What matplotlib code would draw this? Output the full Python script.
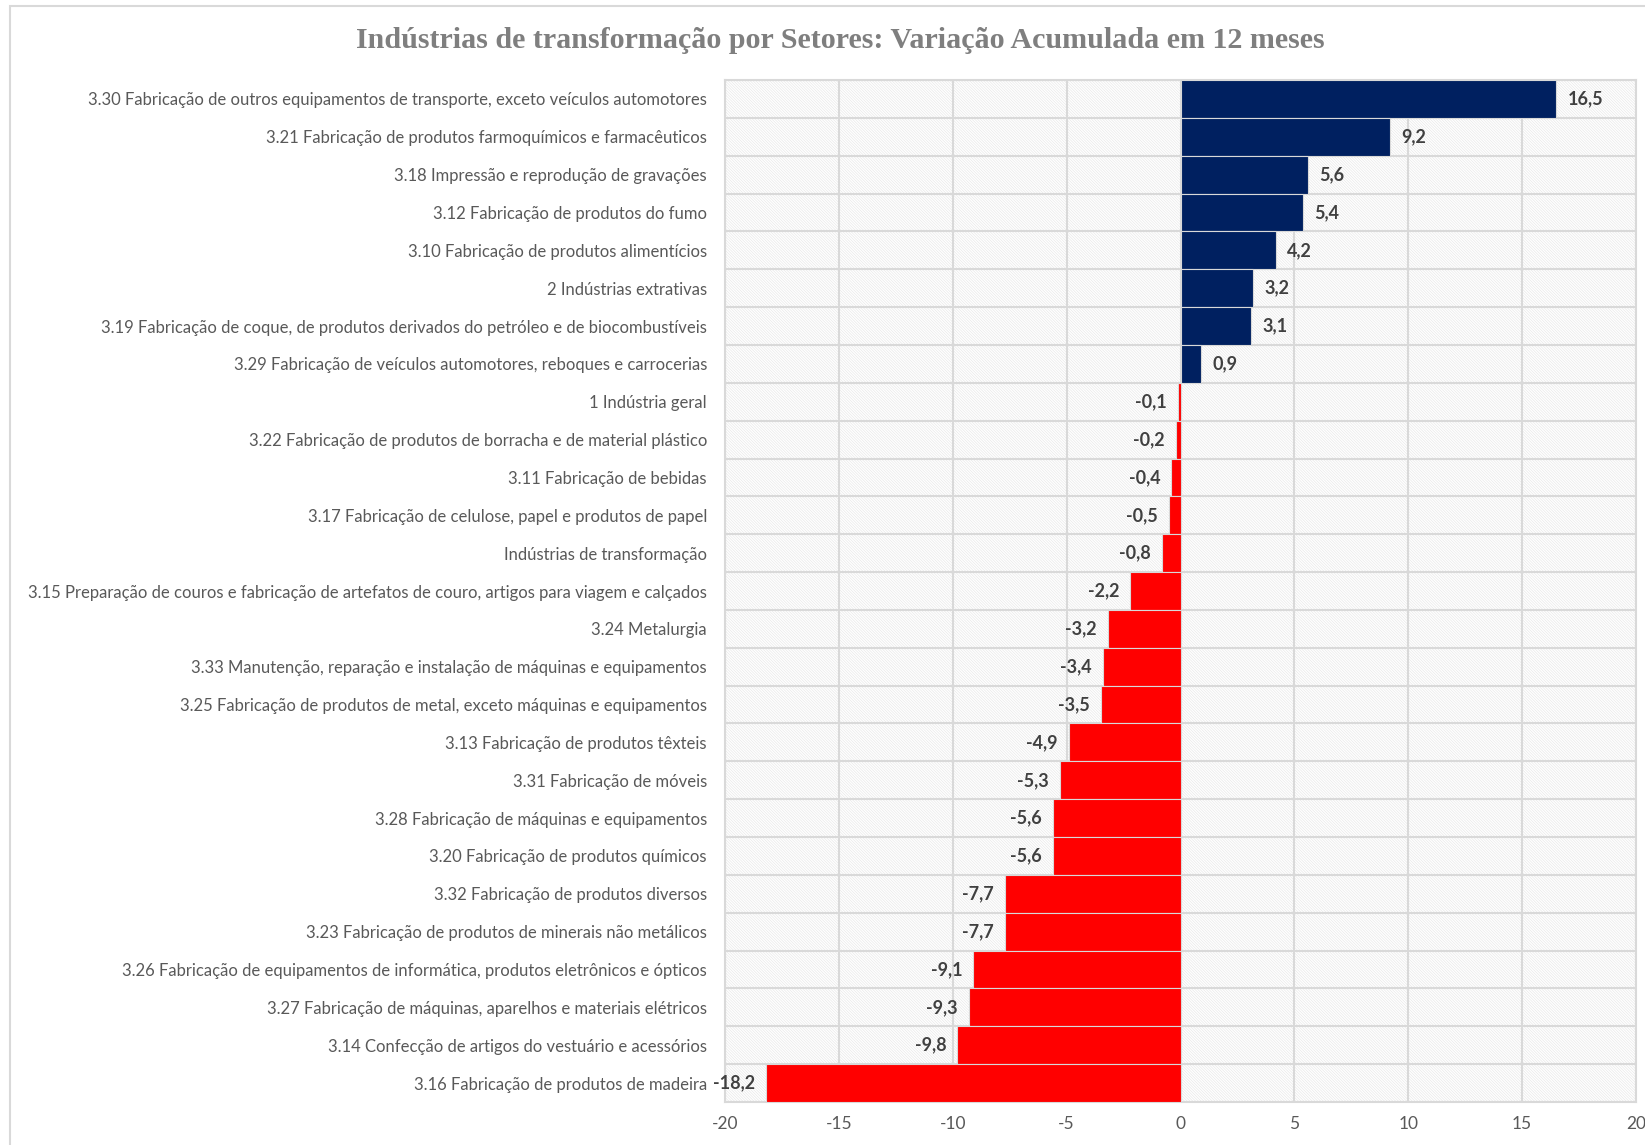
import numpy as np
import matplotlib.pyplot as plt
from matplotlib.patches import Rectangle

sectors = [
    '3.30 Fabricação de outros equipamentos de transporte, exceto veículos automotores',
    '3.21 Fabricação de produtos farmoquímicos e farmacêuticos',
    '3.18 Impressão e reprodução de gravações',
    '3.12 Fabricação de produtos do fumo',
    '3.10 Fabricação de produtos alimentícios',
    '2 Indústrias extrativas',
    '3.19 Fabricação de coque, de produtos derivados do petróleo e de biocombustíveis',
    '3.29 Fabricação de veículos automotores, reboques e carrocerias',
    '1 Indústria geral',
    '3.22 Fabricação de produtos de borracha e de material plástico',
    '3.11 Fabricação de bebidas',
    '3.17 Fabricação de celulose, papel e produtos de papel',
    'Indústrias de transformação',
    '3.15 Preparação de couros e fabricação de artefatos de couro, artigos para viagem e calçados',
    '3.24 Metalurgia',
    '3.33 Manutenção, reparação e instalação de máquinas e equipamentos',
    '3.25 Fabricação de produtos de metal, exceto máquinas e equipamentos',
    '3.13 Fabricação de produtos têxteis',
    '3.31 Fabricação de móveis',
    '3.28 Fabricação de máquinas e equipamentos',
    '3.20 Fabricação de produtos químicos',
    '3.32 Fabricação de produtos diversos',
    '3.23 Fabricação de produtos de minerais não metálicos',
    '3.26 Fabricação de equipamentos de informática, produtos eletrônicos e ópticos',
    '3.27 Fabricação de máquinas, aparelhos e materiais elétricos',
    '3.14 Confecção de artigos do vestuário e acessórios',
    '3.16 Fabricação de produtos de madeira',
]
variation = [16.5, 9.2, 5.6, 5.4, 4.2, 3.2, 3.1, 0.9, -0.1, -0.2, -0.4, -0.5, -0.8,
             -2.2, -3.2, -3.4, -3.5, -4.9, -5.3, -5.6, -5.6, -7.7, -7.7, -9.1,
             -9.3, -9.8, -18.2]
x_ticks = [-20, -15, -10, -5, 0, 5, 10, 15, 20]

plt.rcParams['font.family'] = ['Lato', 'DejaVu Sans']
plt.rcParams['hatch.linewidth'] = 0.4
plt.rcParams['hatch.color'] = '#e4e4e4'

grid_col = '#d9d9d9'
text_col = '#595959'

fig = plt.figure(figsize=(16.45, 11.45), dpi=100)
fig.patches.append(Rectangle((10 / 1645, -0.1), 1.2, 1 - 6 / 1145 + 0.1,
                             transform=fig.transFigure, fill=False,
                             edgecolor=grid_col, lw=1.5))
ax = fig.add_axes([725 / 1645, 1 - 1102 / 1145, (1636 - 725) / 1645, (1102 - 80) / 1145])

n = len(sectors)
y = np.arange(n)

# hatched background of the plot area
ax.add_patch(Rectangle((0, 0), 1, 1, transform=ax.transAxes, facecolor='white',
                       hatch='\\' * 12, edgecolor='#e4e4e4', lw=0, zorder=0))

colors = ['#002060' if v >= 0 else '#ff0000' for v in variation]
ax.barh(y, variation, height=1.0, color=colors, edgecolor=grid_col, linewidth=0.8, zorder=3)

for yi, v in zip(y, variation):
    label = f'{v:.1f}'.replace('.', ',')
    if v >= 0:
        ax.annotate(label, (v, yi), xytext=(8, 0), textcoords='offset points',
                    ha='left', va='center', fontsize=13, fontweight='bold', color='#404040', zorder=4)
    else:
        ax.annotate(label, (v, yi), xytext=(-8, 0), textcoords='offset points',
                    ha='right', va='center', fontsize=13, fontweight='bold', color='#404040', zorder=4)

ax.set_xlim(-20, 20)
ax.set_ylim(n - 0.5, -0.5)
ax.set_xticks(x_ticks)
ax.set_xticklabels([str(t) for t in x_ticks])
ax.set_yticks(y)
ax.set_yticklabels(sectors)
ax.set_yticks(np.arange(n + 1) - 0.5, minor=True)
ax.tick_params(axis='both', which='both', length=0, labelsize=12, labelcolor=text_col)
ax.tick_params(axis='x', labelsize=12.5)
ax.tick_params(axis='y', pad=13)
ax.tick_params(axis='x', pad=10)
ax.grid(True, axis='x', which='major', color=grid_col, lw=1.5, zorder=1)
ax.grid(True, axis='y', which='minor', color=grid_col, lw=1.5, zorder=1)
ax.set_axisbelow(True)
for s in ax.spines.values():
    s.set_color(grid_col)
    s.set_linewidth(1.5)

fig.text(840 / 1645, 1 - 40 / 1145, 'Indústrias de transformação por Setores: Variação Acumulada em 12 meses',
         ha='center', va='center', fontsize=21.6, fontweight='bold', color='#7f7f7f',
         family=['Liberation Serif', 'DejaVu Serif'])

fig.savefig('out.png', dpi=100)
